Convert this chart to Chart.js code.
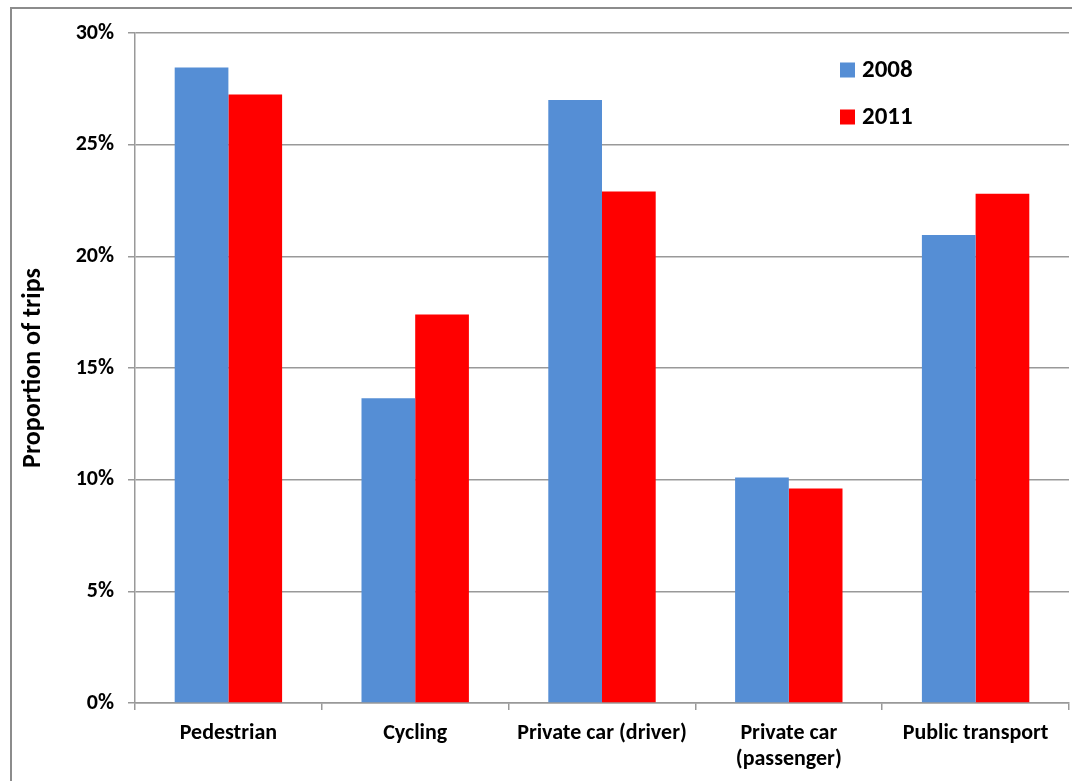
<!DOCTYPE html>
<html>
<head>
<meta charset="utf-8">
<script src="https://cdn.jsdelivr.net/npm/chart.js@4"></script>
<style>
  html, body { margin: 0; padding: 0; background: #fff; }
  #wrap { position: relative; width: 1072px; height: 781px; overflow: hidden; }
  #frame { position: absolute; left: 10px; top: 7px; width: 1080px; height: 800px; border: 2px solid #8c8c8c; box-sizing: border-box; }
  #chart { position: absolute; left: 0; top: 0; }
</style>
</head>
<body>
<div id="wrap">
  <div id="frame"></div>
  <canvas id="chart" width="1072" height="781"></canvas>
</div>
<script>
const categories = ['Pedestrian', 'Cycling', 'Private car (driver)', ['Private car', '(passenger)'], 'Public transport'];
const values2008 = [28.45, 13.65, 27.0, 10.1, 20.95];
const values2011 = [27.25, 17.4, 22.9, 9.6, 22.8];
const yTicks     = [0, 5, 10, 15, 20, 25, 30];

const fontFamily = 'Carlito, Lato, "Open Sans", sans-serif';
const gridColor  = '#999999';

// Legend drawn inside the plot area, top right (as in the original)
const innerLegend = {
    id: 'innerLegend',
    afterDraw(chart) {
        const ctx = chart.ctx;
        const area = chart.chartArea;
        ctx.save();
        ctx.font = 'bold 25px ' + fontFamily;
        ctx.textBaseline = 'middle';
        chart.data.datasets.forEach((ds, i) => {
            const x = area.left + 705;
            const y = area.top + 37 + i * 47;
            ctx.fillStyle = ds.backgroundColor;
            ctx.fillRect(x, y - 7.5, 15, 15);
            ctx.fillStyle = '#000';
            ctx.fillText(ds.label, x + 22, y + 1);
        });
        ctx.restore();
    }
};

new Chart(document.getElementById('chart').getContext('2d'), {
    type: 'bar',
    data: {
        labels: categories,
        datasets: [
            { label: '2008', data: values2008, backgroundColor: '#558ed5', categoryPercentage: 0.575, barPercentage: 1 },
            { label: '2011', data: values2011, backgroundColor: '#ff0000', categoryPercentage: 0.575, barPercentage: 1 },
        ],
    },
    options: {
        responsive: false,
        animation: false,
        layout: { padding: { top: 33, right: 3, left: 0, bottom: 0 } },
        plugins: { legend: { display: false }, tooltip: { enabled: false } },
        scales: {
            x: {
                afterFit: s => { s.height = 78; },
                grid: { offset: true, drawOnChartArea: false, drawTicks: true, tickLength: 7, color: gridColor, lineWidth: 1.5 },
                border: { display: true, color: gridColor, width: 1.5 },
                ticks: { color: '#000', padding: 10, maxRotation: 0, autoSkip: false, font: { family: fontFamily, size: 22, weight: 'bold' } },
            },
            y: {
                min: 0,
                max: 30,
                afterFit: s => { s.width = 135; },
                afterBuildTicks: s => { s.ticks = yTicks.map(v => ({ value: v })); },
                grid: { color: gridColor, lineWidth: 1.5, tickLength: 7 },
                border: { display: true, color: gridColor, width: 1.5 },
                ticks: {
                    color: '#000',
                    padding: 14,
                    callback: v => v + '%',
                    font: { family: fontFamily, size: 22, weight: 'bold' },
                },
                title: {
                    display: true,
                    text: 'Proportion of trips',
                    color: '#000',
                    padding: { top: 18, bottom: 0 },
                    font: { family: fontFamily, size: 26, weight: 'bold' },
                },
            },
        },
    },
    plugins: [innerLegend],
});
</script>
</body>
</html>
